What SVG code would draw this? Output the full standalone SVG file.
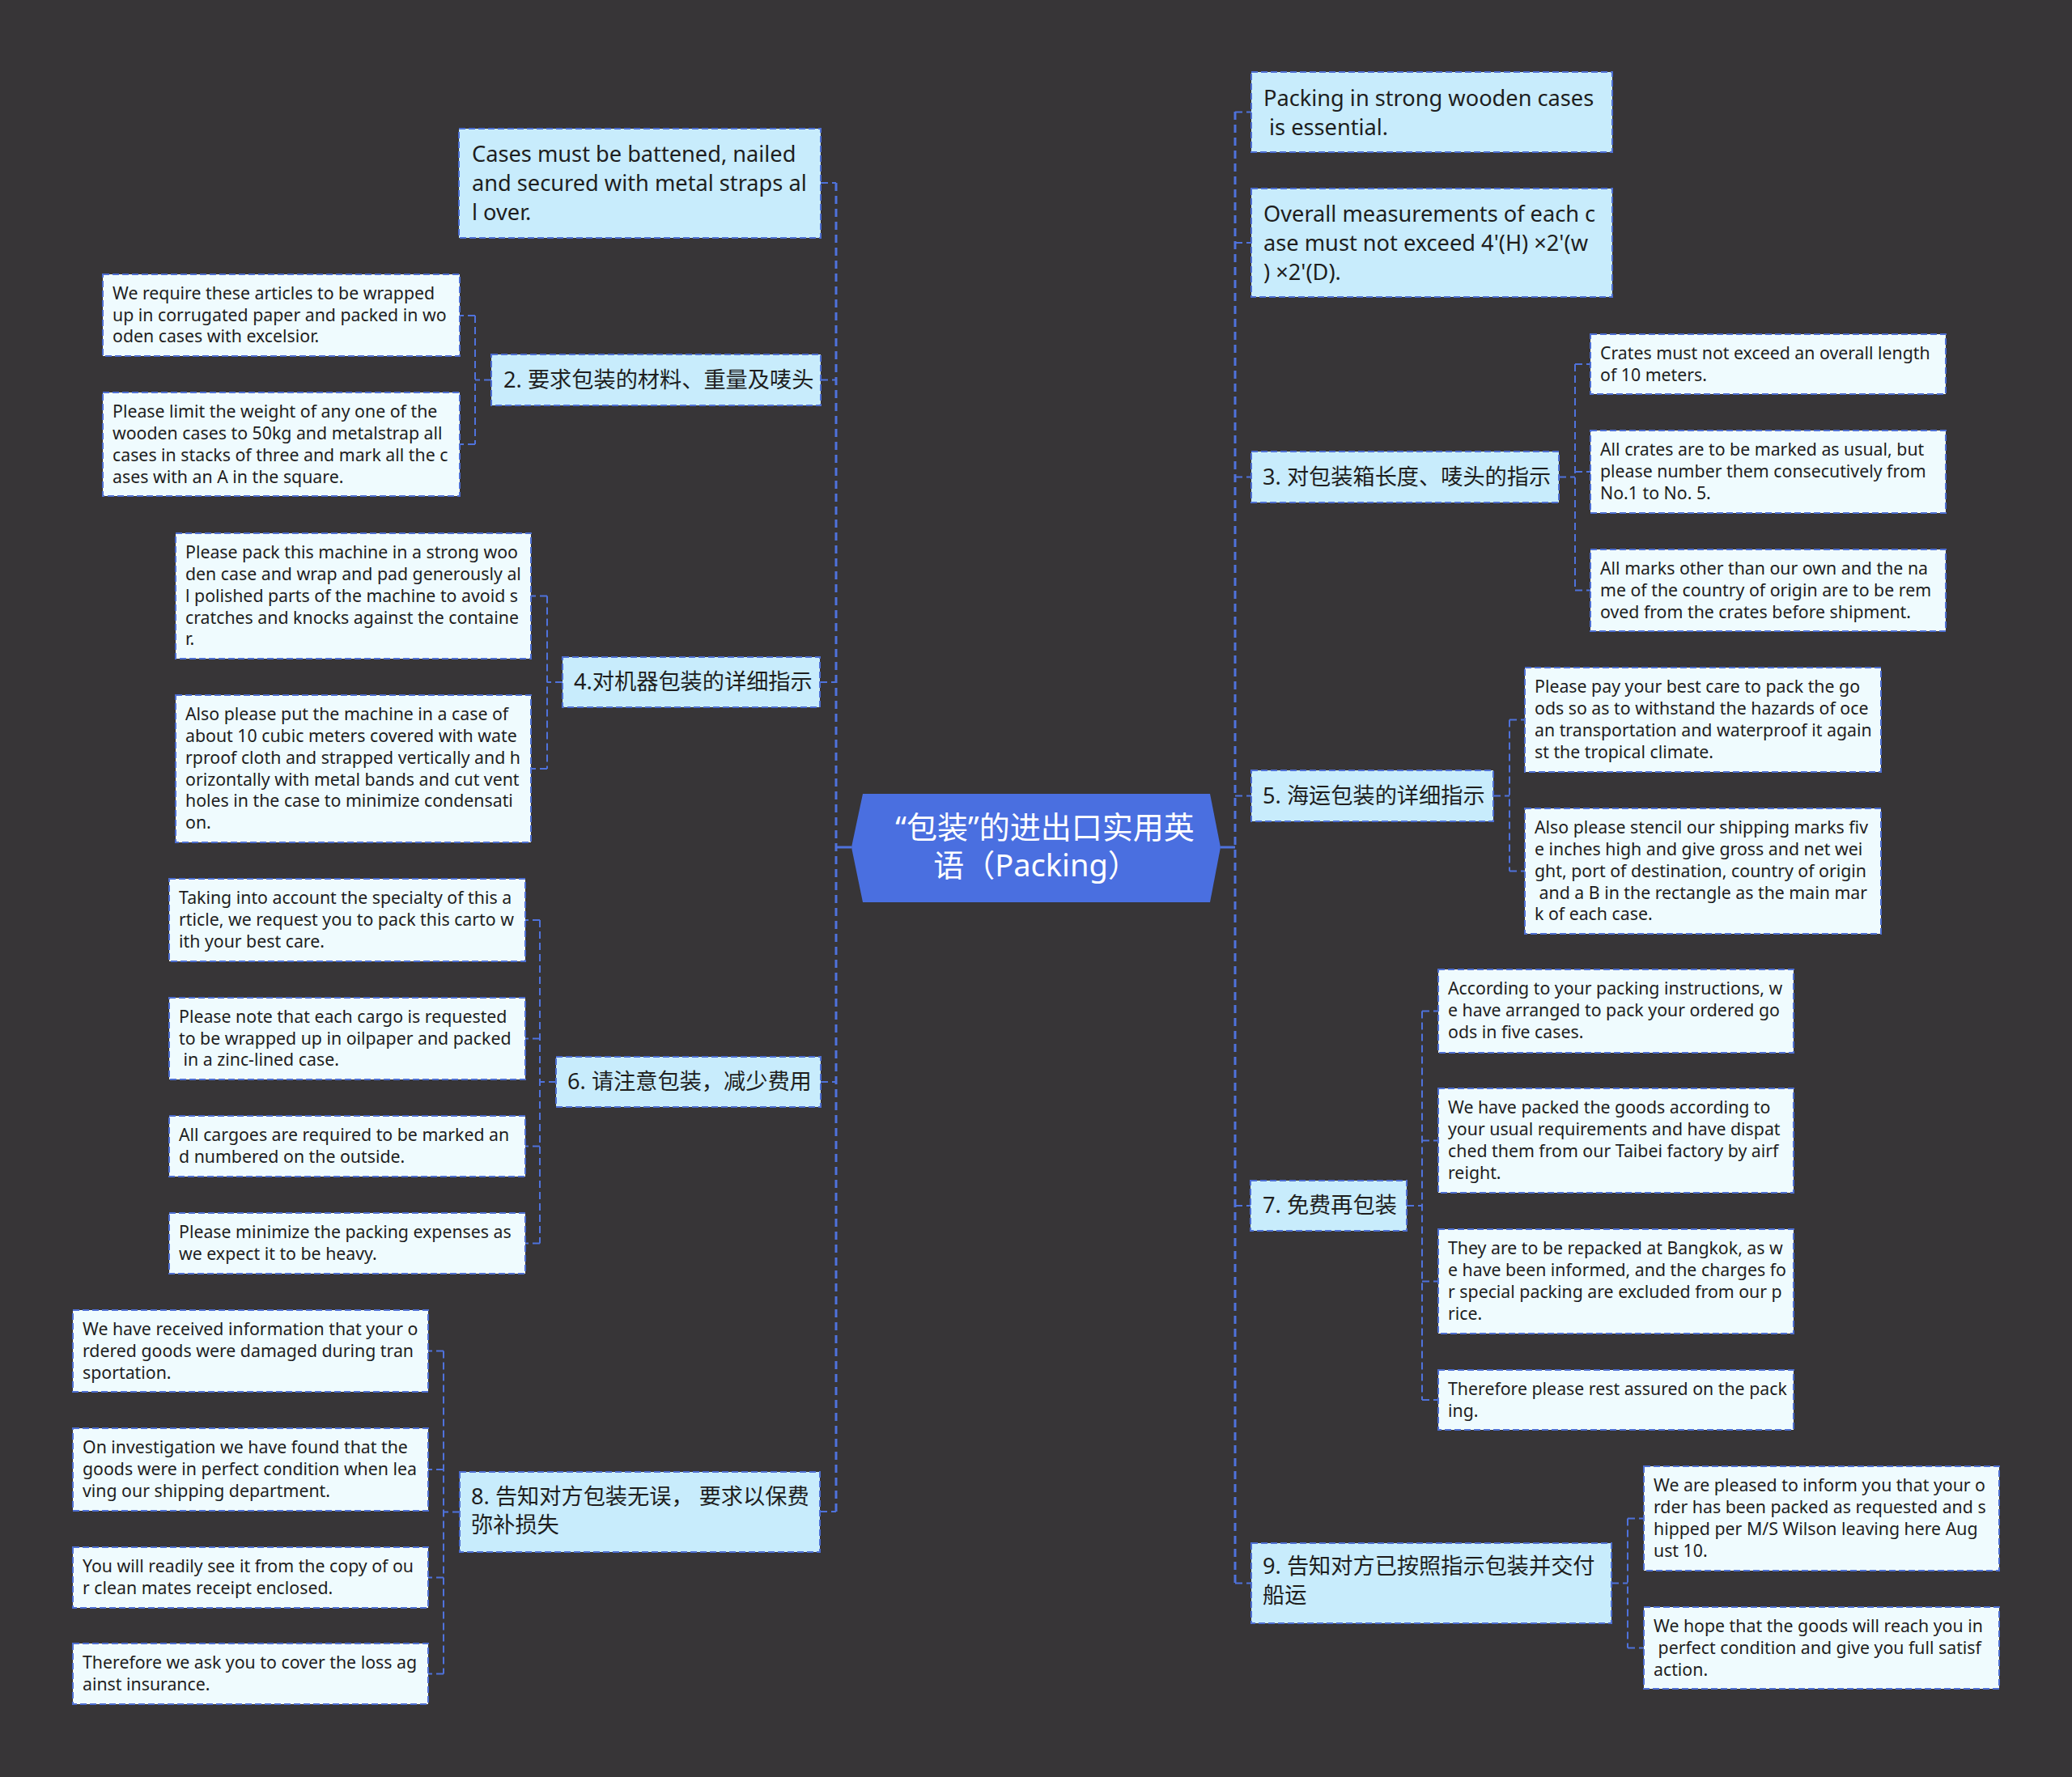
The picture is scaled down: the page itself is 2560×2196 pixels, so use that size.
<svg xmlns="http://www.w3.org/2000/svg" width="2560" height="2196" viewBox="0 0 2560 2196">
<style>
text{font-family:"Noto Sans","Noto Sans CJK SC",sans-serif;fill:#1e1e1e;white-space:pre}
.l1 rect{fill:#c8ecfc;stroke:#4d6ed2;stroke-width:2;stroke-dasharray:8 4}
.lf rect{fill:#effbfe;stroke:#4d6ed2;stroke-width:2;stroke-dasharray:8 4}
.l1 text{font-size:27.2px}
.lf text{font-size:21.3px}
.c{fill:none;stroke:#4f72dc;stroke-width:2;stroke-dasharray:9 5}
.t{fill:none;stroke:#4f72dc;stroke-width:3;stroke-dasharray:10 6}
.s{fill:none;stroke:#4f72dc;stroke-width:3}
</style>
<rect width="2560" height="2196" fill="#373537"/>
<g id="connectors">
<path class="s" d="M1052,1047H1033M1508,1047H1526"/>
<path class="t" d="M1033,226V1868M1526,138V1956"/>
<path class="c" d="M1014,226H1033M1014,469.5H1033M1013,843H1033M1014,1337H1033M1013,1868H1033"/>
<path class="c" d="M1526,138.5H1546M1526,300H1546M1526,589.5H1546M1526,983.5H1546M1526,1490H1546M1526,1956.5H1546"/>
<path class="c" d="M607,469.5H587M587,390V549M587,390H568M587,549H568"/>
<path class="c" d="M695,843H676M676,736.5V950M676,736.5H656M676,950H656"/>
<path class="c" d="M687,1337H667M667,1137V1536.5M667,1137H649M667,1283.5H649M667,1416.5H649M667,1536.5H649"/>
<path class="c" d="M568,1868.5H548M548,1669.5V2068.5M548,1669.5H529M548,1816H529M548,1949.5H529M548,2068.5H529"/>
<path class="c" d="M1926,589.5H1946M1946,450V729.5M1946,450H1965M1946,583H1965M1946,729.5H1965"/>
<path class="c" d="M1845,983.5H1865M1865,889.5V1076.5M1865,889.5H1884M1865,1076.5H1884"/>
<path class="c" d="M1738,1490H1757M1757,1249.5V1730M1757,1249.5H1777M1757,1409.5H1777M1757,1583.5H1777M1757,1730H1777"/>
<path class="c" d="M1991,1956.5H2011M2011,1876.5V2036.5M2011,1876.5H2031M2011,2036.5H2031"/>
</g>
<g id="root">
<polygon points="1066,981 1495,981 1508,1047 1495,1115 1066,1115 1052,1047" fill="#4a6fe0"/>
<text x="1291" y="1036" text-anchor="middle" style="font-size:38px;fill:#ffffff">“包装”的进出口实用英</text>
<text x="1280" y="1083" text-anchor="middle" style="font-size:38px;fill:#ffffff">语（Packing）</text>
</g>
<g id="n1" class="l1"><rect x="567" y="159" width="447" height="135"/>
<text x="583" y="200">Cases must be battened, nailed</text>
<text x="583" y="236">and secured with metal straps al</text>
<text x="583" y="272">l over.</text></g>
<g id="n2" class="l1"><rect x="607" y="438" width="407" height="63"/>
<text x="622" y="479">2. 要求包装的材料、重量及唛头</text></g>
<g id="n2a" class="lf"><rect x="127" y="339" width="441" height="101"/>
<text x="139" y="370">We require these articles to be wrapped</text>
<text x="139" y="397">up in corrugated paper and packed in wo</text>
<text x="139" y="423">oden cases with excelsior.</text></g>
<g id="n2b" class="lf"><rect x="127" y="485" width="441" height="128"/>
<text x="139" y="516">Please limit the weight of any one of the</text>
<text x="139" y="543">wooden cases to 50kg and metalstrap all</text>
<text x="139" y="570">cases in stacks of three and mark all the c</text>
<text x="139" y="597">ases with an A in the square.</text></g>
<g id="n4" class="l1"><rect x="695" y="812" width="318" height="62"/>
<text x="709" y="852">4.对机器包装的详细指示</text></g>
<g id="n4a" class="lf"><rect x="217" y="659" width="439" height="155"/>
<text x="229" y="690">Please pack this machine in a strong woo</text>
<text x="229" y="717">den case and wrap and pad generously al</text>
<text x="229" y="744">l polished parts of the machine to avoid s</text>
<text x="229" y="771">cratches and knocks against the containe</text>
<text x="229" y="797">r.</text></g>
<g id="n4b" class="lf"><rect x="217" y="859" width="439" height="182"/>
<text x="229" y="890">Also please put the machine in a case of</text>
<text x="229" y="917">about 10 cubic meters covered with wate</text>
<text x="229" y="944">rproof cloth and strapped vertically and h</text>
<text x="229" y="971">orizontally with metal bands and cut vent</text>
<text x="229" y="997">holes in the case to minimize condensati</text>
<text x="229" y="1024">on.</text></g>
<g id="n6" class="l1"><rect x="687" y="1306" width="327" height="62"/>
<text x="701" y="1346">6. 请注意包装，减少费用</text></g>
<g id="n6a" class="lf"><rect x="209" y="1086" width="440" height="102"/>
<text x="221" y="1117">Taking into account the specialty of this a</text>
<text x="221" y="1144">rticle, we request you to pack this carto w</text>
<text x="221" y="1171">ith your best care.</text></g>
<g id="n6b" class="lf"><rect x="209" y="1233" width="440" height="101"/>
<text x="221" y="1264">Please note that each cargo is requested</text>
<text x="221" y="1291">to be wrapped up in oilpaper and packed</text>
<text x="221" y="1317"> in a zinc-lined case.</text></g>
<g id="n6c" class="lf"><rect x="209" y="1379" width="440" height="75"/>
<text x="221" y="1410">All cargoes are required to be marked an</text>
<text x="221" y="1437">d numbered on the outside.</text></g>
<g id="n6d" class="lf"><rect x="209" y="1499" width="440" height="75"/>
<text x="221" y="1530">Please minimize the packing expenses as</text>
<text x="221" y="1557">we expect it to be heavy.</text></g>
<g id="n8" class="l1"><rect x="568" y="1819" width="445" height="99"/>
<text x="582" y="1859">8. 告知对方包装无误， 要求以保费</text>
<text x="582" y="1894">弥补损失</text></g>
<g id="n8a" class="lf"><rect x="90" y="1619" width="439" height="101"/>
<text x="102" y="1650">We have received information that your o</text>
<text x="102" y="1677">rdered goods were damaged during tran</text>
<text x="102" y="1704">sportation.</text></g>
<g id="n8b" class="lf"><rect x="90" y="1765" width="439" height="102"/>
<text x="102" y="1796">On investigation we have found that the</text>
<text x="102" y="1823">goods were in perfect condition when lea</text>
<text x="102" y="1850">ving our shipping department.</text></g>
<g id="n8c" class="lf"><rect x="90" y="1912" width="439" height="75"/>
<text x="102" y="1943">You will readily see it from the copy of ou</text>
<text x="102" y="1970">r clean mates receipt enclosed.</text></g>
<g id="n8d" class="lf"><rect x="90" y="2031" width="439" height="75"/>
<text x="102" y="2062">Therefore we ask you to cover the loss ag</text>
<text x="102" y="2089">ainst insurance.</text></g>
<g id="r1" class="l1"><rect x="1546" y="89" width="446" height="99"/>
<text x="1561" y="131">Packing in strong wooden cases</text>
<text x="1561" y="167"> is essential.</text></g>
<g id="r2" class="l1"><rect x="1546" y="233" width="446" height="134"/>
<text x="1561" y="274">Overall measurements of each c</text>
<text x="1561" y="310">ase must not exceed 4'(H) ×2'(w</text>
<text x="1561" y="346">) ×2'(D).</text></g>
<g id="n3" class="l1"><rect x="1546" y="558" width="380" height="63"/>
<text x="1560" y="599">3. 对包装箱长度、唛头的指示</text></g>
<g id="n3a" class="lf"><rect x="1965" y="413" width="439" height="74"/>
<text x="1977" y="444">Crates must not exceed an overall length</text>
<text x="1977" y="471">of 10 meters.</text></g>
<g id="n3b" class="lf"><rect x="1965" y="532" width="439" height="102"/>
<text x="1977" y="563">All crates are to be marked as usual, but</text>
<text x="1977" y="590">please number them consecutively from</text>
<text x="1977" y="617">No.1 to No. 5.</text></g>
<g id="n3c" class="lf"><rect x="1965" y="679" width="439" height="101"/>
<text x="1977" y="710">All marks other than our own and the na</text>
<text x="1977" y="737">me of the country of origin are to be rem</text>
<text x="1977" y="764">oved from the crates before shipment.</text></g>
<g id="n5" class="l1"><rect x="1546" y="952" width="299" height="63"/>
<text x="1560" y="993">5. 海运包装的详细指示</text></g>
<g id="n5a" class="lf"><rect x="1884" y="825" width="440" height="129"/>
<text x="1896" y="856">Please pay your best care to pack the go</text>
<text x="1896" y="883">ods so as to withstand the hazards of oce</text>
<text x="1896" y="910">an transportation and waterproof it again</text>
<text x="1896" y="937">st the tropical climate.</text></g>
<g id="n5b" class="lf"><rect x="1884" y="999" width="440" height="155"/>
<text x="1896" y="1030">Also please stencil our shipping marks fiv</text>
<text x="1896" y="1057">e inches high and give gross and net wei</text>
<text x="1896" y="1084">ght, port of destination, country of origin</text>
<text x="1896" y="1111"> and a B in the rectangle as the main mar</text>
<text x="1896" y="1137">k of each case.</text></g>
<g id="n7" class="l1"><rect x="1545" y="1459" width="193" height="62"/>
<text x="1560" y="1499">7. 免费再包装</text></g>
<g id="n7a" class="lf"><rect x="1777" y="1198" width="439" height="103"/>
<text x="1789" y="1229">According to your packing instructions, w</text>
<text x="1789" y="1256">e have arranged to pack your ordered go</text>
<text x="1789" y="1283">ods in five cases.</text></g>
<g id="n7b" class="lf"><rect x="1777" y="1345" width="439" height="129"/>
<text x="1789" y="1376">We have packed the goods according to</text>
<text x="1789" y="1403">your usual requirements and have dispat</text>
<text x="1789" y="1430">ched them from our Taibei factory by airf</text>
<text x="1789" y="1457">reight.</text></g>
<g id="n7c" class="lf"><rect x="1777" y="1519" width="439" height="129"/>
<text x="1789" y="1550">They are to be repacked at Bangkok, as w</text>
<text x="1789" y="1577">e have been informed, and the charges fo</text>
<text x="1789" y="1604">r special packing are excluded from our p</text>
<text x="1789" y="1631">rice.</text></g>
<g id="n7d" class="lf"><rect x="1777" y="1693" width="439" height="74"/>
<text x="1789" y="1724">Therefore please rest assured on the pack</text>
<text x="1789" y="1751">ing.</text></g>
<g id="n9" class="l1"><rect x="1546" y="1907" width="445" height="99"/>
<text x="1560" y="1945">9. 告知对方已按照指示包装并交付</text>
<text x="1560" y="1981">船运</text></g>
<g id="n9a" class="lf"><rect x="2031" y="1812" width="439" height="129"/>
<text x="2043" y="1843">We are pleased to inform you that your o</text>
<text x="2043" y="1870">rder has been packed as requested and s</text>
<text x="2043" y="1897">hipped per M/S Wilson leaving here Aug</text>
<text x="2043" y="1924">ust 10.</text></g>
<g id="n9b" class="lf"><rect x="2031" y="1986" width="439" height="101"/>
<text x="2043" y="2017">We hope that the goods will reach you in</text>
<text x="2043" y="2044"> perfect condition and give you full satisf</text>
<text x="2043" y="2071">action.</text></g>
</svg>
